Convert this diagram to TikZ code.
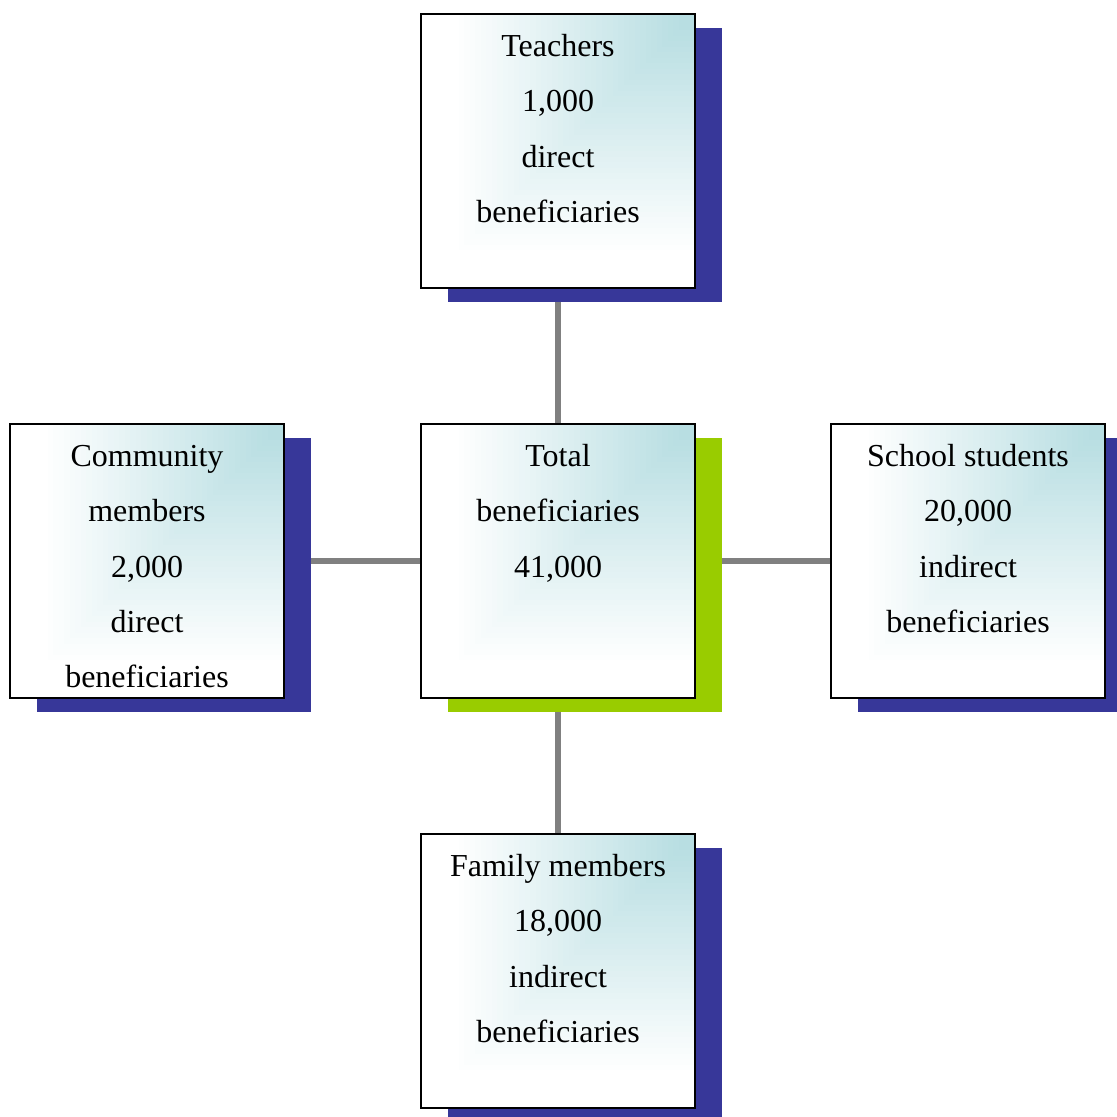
\documentclass[tikz,border=0pt]{standalone}
\usepackage{fontspec}
\setmainfont{Liberation Serif}
\usetikzlibrary{shadows,backgrounds}
\definecolor{shblue}{RGB}{55,55,153}
\definecolor{shgreen}{RGB}{153,204,0}
\definecolor{tealc}{RGB}{184,222,226}
\definecolor{conn}{RGB}{128,128,128}
\newcommand{\cornerfade}{%
  \foreach \i in {50,49,...,1}{%
    \pgfmathsetmacro{\tt}{\i/50}%
    \pgfmathsetmacro{\pp}{max(0,min(100,(0.88-\tt)/(0.88-0.06)*100))}%
    \pgfmathsetmacro{\ss}{\tt*206}%
    \fill[tealc!\pp!white] (path picture bounding box.north east) rectangle ++(-\ss pt,-\ss pt);
  }}
\tikzset{
  benbox/.style={rectangle, draw=black, line width=1.5pt,
    minimum width=205.5pt, minimum height=205.5pt, inner sep=0pt, outer sep=0pt,
    fill=white,
    path picture={\cornerfade},
    general shadow={fill=#1, shadow xshift=20.25pt, shadow yshift=-10.5pt}},
  lbl/.style={anchor=north, align=center, inner sep=0pt, yshift=-2.25pt, font=\fontsize{24}{41.6}\selectfont},
  link/.style={draw=conn, line width=4.5pt}
}
\begin{document}
\begin{tikzpicture}[x=0.75pt, y=-0.75pt]
\useasboundingbox (0,0) rectangle (1117,1117);
\clip (0,0) rectangle (1117,1117);
\node[benbox=shgreen] (c) at (558,561) {};
\node[benbox=shblue] (t) at (558,151) {};
\node[benbox=shblue] (l) at (147,561) {};
\node[benbox=shblue] (r) at (968,561) {};
\node[benbox=shblue] (b) at (558,971) {};
\node[lbl] (ct) at (c.north) {\strut Total\\beneficiaries\\41,000};
\node[lbl] (tt) at (t.north) {\strut Teachers\\1,000\\direct\\beneficiaries};
\node[lbl] (lt) at (l.north) {\strut Community\\members\\2,000\\direct\\beneficiaries};
\node[lbl] (rt) at (r.north) {\strut School students\\20,000\\indirect\\beneficiaries};
\node[lbl] (bt) at (b.north) {\strut Family members\\18,000\\indirect\\beneficiaries};
\begin{scope}[on background layer]
\draw[link] (c) -- (t);
\draw[link] (c) -- (b);
\draw[link] (c) -- (l);
\draw[link] (c) -- (r);
\end{scope}
\end{tikzpicture}
\end{document}
